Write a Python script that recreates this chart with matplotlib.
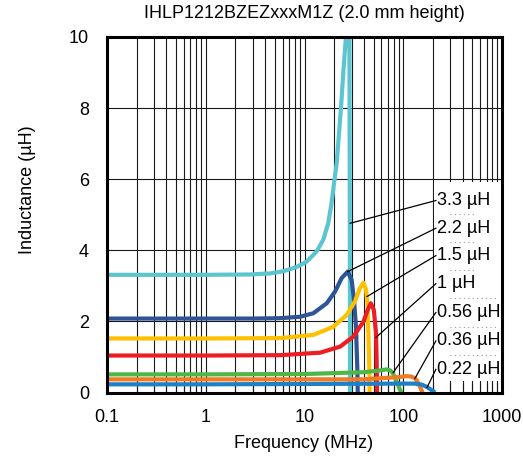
import matplotlib
matplotlib.use("Agg")
import matplotlib.pyplot as plt
from matplotlib.patches import Rectangle
from matplotlib.ticker import LogLocator, NullFormatter, FixedLocator, FuncFormatter

plt.rcParams['font.family'] = ['Liberation Sans', 'DejaVu Sans']

title = "IHLP1212BZEZxxxM1Z (2.0 mm height)"
xlabel = "Frequency (MHz)"
ylabel = "Inductance (µH)"

labels = ["3.3 µH", "2.2 µH", "1.5 µH", "1 µH", "0.56 µH", "0.36 µH", "0.22 µH"]
colors = ["#5BC6D0", "#2D5597", "#FFC000", "#EE1D24", "#4DB748", "#F27A22", "#1F80C6"]

# series: (frequency MHz, inductance µH)
f_33 = [0.1, 1, 2.81, 4.48, 6.10, 8.33, 10.5, 13.3, 15.5, 17.4, 18.8, 19.9, 21.2, 23.4, 25.1,
        26.3, 27.3, 28.5, 28.8, 28.9]
L_33 = [3.31, 3.31, 3.32, 3.35, 3.41, 3.53, 3.68, 3.97, 4.30, 4.77, 5.33, 5.89, 6.46, 8.0, 9.27,
        10.0, 10.4, 10.0, 4.0, 0.0]

f_22 = [0.1, 1, 3, 5.65, 9.0, 12.3, 16.8, 20.4, 23.8, 27.4, 30.0, 31.7, 33.2, 34.3, 34.6]
L_22 = [2.08, 2.08, 2.08, 2.09, 2.13, 2.23, 2.51, 2.84, 3.22, 3.40, 3.17, 2.61, 1.85, 0.63, 0.0]

f_15 = [0.1, 1, 5.65, 12.3, 19.6, 26.7, 32.4, 36.3, 39.5, 42.0, 43.6, 44.6, 45.4, 45.6]
L_15 = [1.52, 1.52, 1.53, 1.62, 1.85, 2.18, 2.56, 2.93, 3.09, 2.89, 2.42, 1.39, 0.63, 0.0]

f_10 = [0.1, 1, 5.65, 14.4, 22.9, 31.2, 39.5, 44.3, 47.0, 50.4, 53.0, 54.0, 54.3]
L_10 = [1.04, 1.04, 1.05, 1.12, 1.29, 1.57, 1.99, 2.37, 2.51, 2.32, 1.67, 0.63, 0.0]

f_056 = [0.1, 1, 10, 39.5, 58.2, 67.9, 74.0, 79.4, 86.0, 92.0, 95.6]
L_056 = [0.51, 0.51, 0.52, 0.57, 0.62, 0.65, 0.62, 0.52, 0.30, 0.10, 0.0]

f_036 = [0.1, 1, 10, 39.5, 85.7, 108, 120, 132, 140, 148, 157]
L_036 = [0.37, 0.37, 0.37, 0.37, 0.43, 0.46, 0.45, 0.40, 0.30, 0.16, 0.0]

f_022 = [0.1, 1, 10, 100, 130, 155, 175, 195, 210]
L_022 = [0.23, 0.23, 0.24, 0.25, 0.25, 0.22, 0.15, 0.06, 0.0]

series_f = [f_33, f_22, f_15, f_10, f_056, f_036, f_022]
series_L = [L_33, L_22, L_15, L_10, L_056, L_036, L_022]

# label anchor (text y in µH) and leader line end on curve
label_y = [5.40, 4.62, 3.85, 3.06, 2.25, 1.45, 0.65]
leader_f = [29.0, 27.4, 43.0, 53.0, 79.0, 131.0, 174.0]
leader_L = [4.76, 3.40, 2.70, 1.55, 0.56, 0.39, 0.14]
label_f = 222.0
leader_start_f = 214.0

FS = 13

fig = plt.figure(figsize=(5.23, 4.59), dpi=100)
ax = fig.add_axes([107/523, 1-392.5/459, (502-107)/523, (392.5-37)/459])
ax.set_xscale('log')
ax.set_xlim(0.1, 1000)
ax.set_ylim(0, 10)

ax.xaxis.set_major_locator(LogLocator(base=10, numticks=10))
ax.xaxis.set_minor_locator(LogLocator(base=10, subs=range(2, 10), numticks=100))
ax.xaxis.set_minor_formatter(NullFormatter())
ax.xaxis.set_major_formatter(FuncFormatter(lambda v, p: ('%g' % v)))
ax.yaxis.set_major_locator(FixedLocator([0, 2, 4, 6, 8, 10]))

ax.grid(True, which='major', axis='both', color='#1a1a1a', lw=0.8)
ax.grid(True, which='minor', axis='x', color='#1a1a1a', lw=0.8)
ax.tick_params(axis='x', which='both', direction='in', length=7, width=0.8, color='#1a1a1a',
               labelsize=FS, pad=12)
ax.tick_params(axis='y', which='both', length=0, labelsize=FS, pad=13)

for sp in ax.spines.values():
    sp.set_linewidth(2.2)
    sp.set_color('black')
    sp.set_zorder(10)

for fx, Ly, c in zip(series_f, series_L, colors):
    ax.plot(fx, Ly, color=c, lw=3.0, solid_capstyle='butt', solid_joinstyle='round', zorder=3)

# white label panel
ax.add_patch(Rectangle((205, 0.33), 1000 - 205, 5.93 - 0.33, facecolor='white',
                       edgecolor='none', zorder=2.2))
for i in range(len(label_y) - 1):
    ym = (label_y[i] + label_y[i + 1]) / 2
    x2 = 520 if i < 3 else 900
    ax.plot([300, x2], [ym, ym], color='#9a9a9a', lw=0.8, ls=(0, (1, 3)), zorder=2.3)

for ly, lf, lL, lab in zip(label_y, leader_f, leader_L, labels):
    ax.plot([leader_start_f, lf], [ly, lL], color='black', lw=0.9, zorder=4)
    ax.text(label_f, ly, lab, fontsize=FS, va='center', ha='left', zorder=5)

fig.text(304/523, 1-14/459, title, fontsize=FS, ha='center', va='center')
fig.text(304/523, 1-443/459, xlabel, fontsize=FS, ha='center', va='center')
fig.text(27/523, 1-190/459, ylabel, fontsize=FS, ha='center', va='center', rotation=90)

fig.savefig('out.png', dpi=100)
